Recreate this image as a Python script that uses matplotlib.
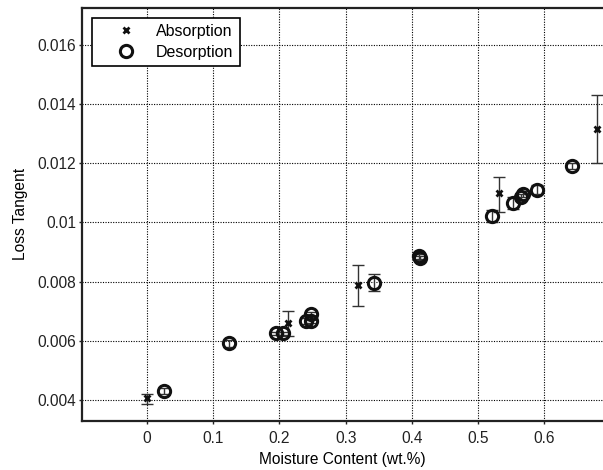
import matplotlib
matplotlib.use('Agg')
import matplotlib.pyplot as plt
from matplotlib.ticker import FuncFormatter

plt.rcParams['font.family'] = ['Liberation Sans', 'DejaVu Sans']
plt.rcParams['font.size'] = 11.2

# absorption data (x markers, large error bars)
abs_x = [0.0, 0.2125, 0.318, 0.531, 0.679]
abs_y = [0.00406, 0.00659, 0.00789, 0.01098, 0.01314]
abs_lo = [0.00387, 0.00617, 0.00717, 0.01036, 0.01200]
abs_hi = [0.00420, 0.00701, 0.00857, 0.01153, 0.01432]

# desorption data (open circles)
des_x = [0.025, 0.124, 0.195, 0.205, 0.240, 0.247, 0.247, 0.343, 0.410, 0.412,
         0.5216, 0.5524, 0.565, 0.568, 0.5896, 0.642]
des_y = [0.00429, 0.00592, 0.00625, 0.00625, 0.00667, 0.00668, 0.00690, 0.00796,
         0.00885, 0.00880, 0.01022, 0.01066, 0.01085, 0.01095, 0.01111, 0.01191]
des_err = [0.00010, 0.00012, 0.00006, 0.00006, 0.00010, 0.00008, 0.00008, 0.00029,
           0.00008, 0.00008, 0.00020, 0.00020, 0.00010, 0.00010, 0.00015, 0.00010]

fig = plt.figure(figsize=(6.03, 4.70), dpi=100)
ax = fig.add_axes([0.1355, 0.1043, 0.8645, 0.8797])

abs_err = [[y - lo for y, lo in zip(abs_y, abs_lo)],
           [hi - y for y, hi in zip(abs_y, abs_hi)]]
ax.errorbar(abs_x, abs_y, yerr=abs_err, fmt='none', ecolor='#333333',
            elinewidth=1, capsize=4.5, capthick=1, zorder=3)
ax.plot(abs_x, abs_y, linestyle='none', marker='x', markersize=4.2,
        markeredgewidth=2, color='#111111', zorder=4, label='Absorption')

ax.errorbar(des_x, des_y, yerr=des_err, fmt='none', ecolor='#333333',
            elinewidth=1, capsize=4.5, capthick=1, zorder=3)
ax.plot(des_x, des_y, linestyle='none', marker='o', markersize=8.8,
        markerfacecolor='none', markeredgewidth=2.2, color='#111111',
        zorder=4, label='Desorption')

ax.set_xlim(-0.0986, 0.6885)
ax.set_ylim(0.00329, 0.01726)
ax.set_xticks([0, 0.1, 0.2, 0.3, 0.4, 0.5, 0.6])
ax.set_yticks([0.004, 0.006, 0.008, 0.01, 0.012, 0.014, 0.016])
ax.xaxis.set_major_formatter(FuncFormatter(lambda v, p: '%g' % round(v, 4)))
ax.yaxis.set_major_formatter(FuncFormatter(lambda v, p: '%g' % round(v, 4)))

ax.grid(True, linestyle=(0, (1.0, 1.3)), color='black', linewidth=0.8)
ax.set_axisbelow(True)
ax.tick_params(direction='out', length=2.5, width=1, colors='#222222')
ax.tick_params(axis='x', pad=5)
ax.tick_params(axis='y', pad=1.5)
for side in ['left', 'bottom', 'top']:
    ax.spines[side].set_linewidth(1.6)
    ax.spines[side].set_color('#222222')
ax.spines['right'].set_visible(False)

ax.set_xlabel('Moisture Content (wt.%)', labelpad=4)
ax.set_ylabel('Loss Tangent', labelpad=7)

leg = ax.legend(loc='upper left', bbox_to_anchor=(0.005, 0.995), fancybox=False,
                edgecolor='black', framealpha=1, borderpad=0.4, handletextpad=0.2,
                handlelength=3.4, labelspacing=0.35, fontsize=11.5)
leg.get_frame().set_linewidth(1.2)

fig.savefig('out.png', dpi=100)
